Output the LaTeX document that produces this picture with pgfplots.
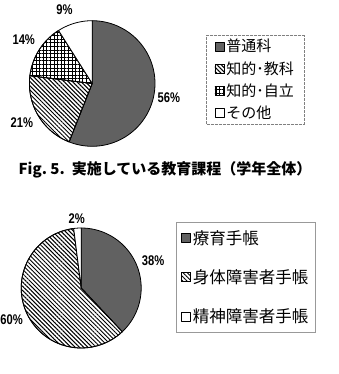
\documentclass[border=0pt]{standalone}
\usepackage{pgfplots}
\pgfplotsset{compat=1.18}
\usetikzlibrary{patterns.meta}
\usepackage{graphicx}
\usepackage{fontspec}
\setmainfont{Liberation Sans}
\newfontfamily\jp{Noto Sans CJK JP}

\tikzset{
  darkfill/.style={fill=black!62},
  hatchfill/.style={fill=white, postaction={pattern={Lines[angle=-45,distance=3pt,line width=1pt]}}},
  gridfill/.style={fill=white, postaction={pattern={Hatch[angle=0,distance=3.6pt,line width=0.9pt]}}},
  whitefill/.style={fill=white},
}
\newcommand{\pct}[1]{\scalebox{0.8}[1]{\bfseries\fontsize{14}{14}\selectfont #1\%}}

\pgfplotsset{
  pie/.style={hide axis, scale only axis, xmin=-1, xmax=1, ymin=-1, ymax=1,
    clip=false, anchor=center, legend cell align=left,
    legend image code/.code={\draw[##1, solid, line width=0.6pt] (0pt,-4.5pt) rectangle (9pt,4.5pt);}},
  slice/.style={draw=black, line width=0.8pt, samples=80, line join=round},
}

\begin{document}
\begin{tikzpicture}
\useasboundingbox (0,0) rectangle (338pt,-374pt);

% Pie 1: percentages, clockwise from the top (domain = cumulative percent)
\begin{axis}[pie, width=125.6pt, height=125.6pt, at={(92.2pt,-83.5pt)},
  legend style={at={(1.41,0.885)}, anchor=north west, draw=black!50,
    dash pattern=on 3pt off 1pt, font=\jp\fontsize{15}{18}\selectfont,
    inner xsep=8pt, inner ysep=2pt, row sep=4pt}]
\addplot[slice, darkfill, domain=0:56]  ({sin(3.6*x)},{cos(3.6*x)}) -- (axis cs:0,0) -- cycle;
\addlegendentry{普通科}
\addplot[slice, hatchfill, domain=56:77] ({sin(3.6*x)},{cos(3.6*x)}) -- (axis cs:0,0) -- cycle;
\addlegendentry{知的･教科}
\addplot[slice, gridfill, domain=77:91] ({sin(3.6*x)},{cos(3.6*x)}) -- (axis cs:0,0) -- cycle;
\addlegendentry{知的･自立}
\addplot[slice, whitefill, domain=91:100] ({sin(3.6*x)},{cos(3.6*x)}) -- (axis cs:0,0) -- cycle;
\addlegendentry{その他}
\node at (axis cs:1.22,-0.23) {\pct{56}};
\node at (axis cs:-1.12,-0.63) {\pct{21}};
\node at (axis cs:-1.09,0.69) {\pct{14}};
\node at (axis cs:-0.44,1.17) {\pct{9}};
\end{axis}

\node[font=\jp\bfseries\fontsize{15}{17}\selectfont] at (165pt,-170pt)
  {Fig.\ 5.\ \ 実施している教育課程（学年全体）};

% Pie 2
\begin{axis}[pie, width=120pt, height=120pt, at={(81.2pt,-288pt)},
  legend style={at={(1.29,1.05)}, anchor=north west, draw=black!40,
    font=\jp\fontsize{16.5}{19}\selectfont,
    inner xsep=5pt, inner ysep=6pt, row sep=20pt}]
\addplot[slice, darkfill, domain=0:38]  ({sin(3.6*x)},{cos(3.6*x)}) -- (axis cs:0,0) -- cycle;
\addlegendentry{療育手帳}
\addplot[slice, hatchfill, domain=38:98] ({sin(3.6*x)},{cos(3.6*x)}) -- (axis cs:0,0) -- cycle;
\addlegendentry{身体障害者手帳}
\addplot[slice, whitefill, domain=98:100] ({sin(3.6*x)},{cos(3.6*x)}) -- (axis cs:0,0) -- cycle;
\addlegendentry{精神障害者手帳}
\node at (axis cs:1.20,0.45) {\pct{38}};
\node at (axis cs:-1.16,-0.53) {\pct{60}};
\node at (axis cs:-0.075,1.16) {\pct{2}};
\end{axis}
\end{tikzpicture}
\end{document}
